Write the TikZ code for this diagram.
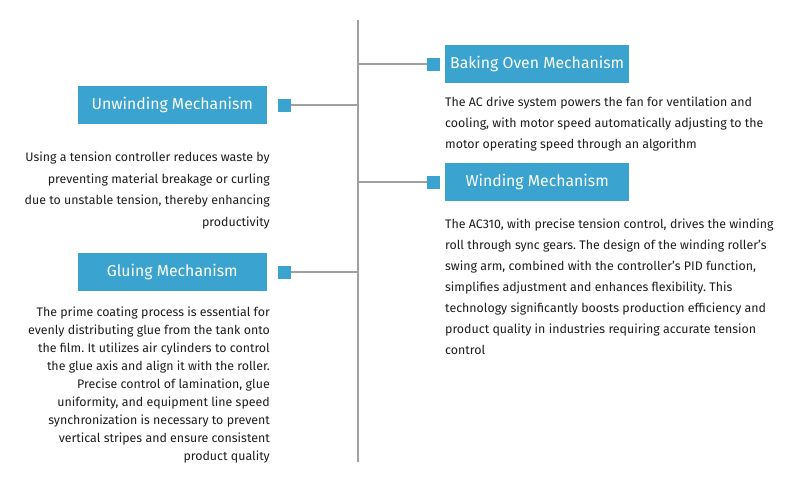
\documentclass[tikz,border=0pt]{standalone}
\usepackage{fontspec}
\setmainfont{Fira Sans}
\usetikzlibrary{positioning}
\definecolor{mechblue}{HTML}{3AA3D0}
\definecolor{trunkgray}{HTML}{A0A0A0}
\definecolor{bodytext}{HTML}{1E1E1E}
\frenchspacing

\begin{document}
\begin{tikzpicture}[x=1pt,y=-1pt
  ,trunk/.style={draw=trunkgray,line width=1.5pt}
  ,title/.style={fill=mechblue,text=white,minimum width=189pt
    ,minimum height=38pt,inner sep=0pt
    ,font=\fontsize{15.8}{18}\selectfont}
  ,marker/.style={fill=mechblue,minimum size=13pt,inner sep=0pt}
  ,desc/.style={text=bodytext,inner sep=0pt
    ,font=\fontsize{12.4}{21}\selectfont}]
  \useasboundingbox (0,0) rectangle (800,485);

  % central trunk
  \coordinate (top) at (358,20);
  \coordinate (bot) at (358,462);
  \draw[trunk] (top) -- (bot);

  % right side
  \node[title,minimum width=184pt,anchor=north west] (bake) at (445,45)
    {Baking Oven Mechanism};
  \node[marker,left=5pt of bake.west] (mbake) {};
  \node[title,minimum width=184pt,anchor=north west] (wind) at (445,163)
    {Winding Mechanism};
  \node[marker,left=5pt of wind.west] (mwind) {};

  % left side
  \node[title,anchor=north east] (unwind) at (267,86)
    {Unwinding Mechanism};
  \node[marker,right=11pt of unwind.east] (munwind) {};
  \node[title,anchor=north east] (glue) at (267,253)
    {Gluing Mechanism};
  \node[marker,right=11pt of glue.east] (mglue) {};

  % branches
  \coordinate (jbake) at (top |- mbake);
  \coordinate (jwind) at (top |- mwind);
  \coordinate (junwind) at (top |- munwind);
  \coordinate (jglue) at (top |- mglue);
  \draw[trunk] (jbake) -- (mbake.west);
  \draw[trunk] (jwind) -- (mwind.west);
  \draw[trunk] (junwind) -- (munwind.east);
  \draw[trunk] (jglue) -- (mglue.east);

  % descriptions
  \node[desc,align=left,anchor=north west] (tbake) at (445,97)
    {The AC drive system powers the fan for ventilation and\\
     cooling, with motor speed automatically adjusting to the\\
     motor operating speed through an algorithm};
  \node[desc,align=left,anchor=north west] (twind) at (445,219)
    {The AC310, with precise tension control, drives the winding\\
     roll through sync gears. The design of the winding roller's\\
     swing arm, combined with the controller's PID function,\\
     simplifies adjustment and enhances flexibility. This\\
     technology significantly boosts production efficiency and\\
     product quality in industries requiring accurate tension\\
     control};
  \node[desc,align=right,anchor=north east
    ,font=\fontsize{12.4}{21.5}\selectfont] (tunwind) at (270,152)
    {Using a tension controller reduces waste by\\
     preventing material breakage or curling\\
     due to unstable tension, thereby enhancing\\
     productivity};
  \node[desc,align=right,anchor=north east
    ,font=\fontsize{12.4}{18}\selectfont] (tglue) at (270,307)
    {The prime coating process is essential for\\
     evenly distributing glue from the tank onto\\
     the film. It utilizes air cylinders to control\\
     the glue axis and align it with the roller.\\
     Precise control of lamination, glue\\
     uniformity, and equipment line speed\\
     synchronization is necessary to prevent\\
     vertical stripes and ensure consistent\\
     product quality};
\end{tikzpicture}
\end{document}
